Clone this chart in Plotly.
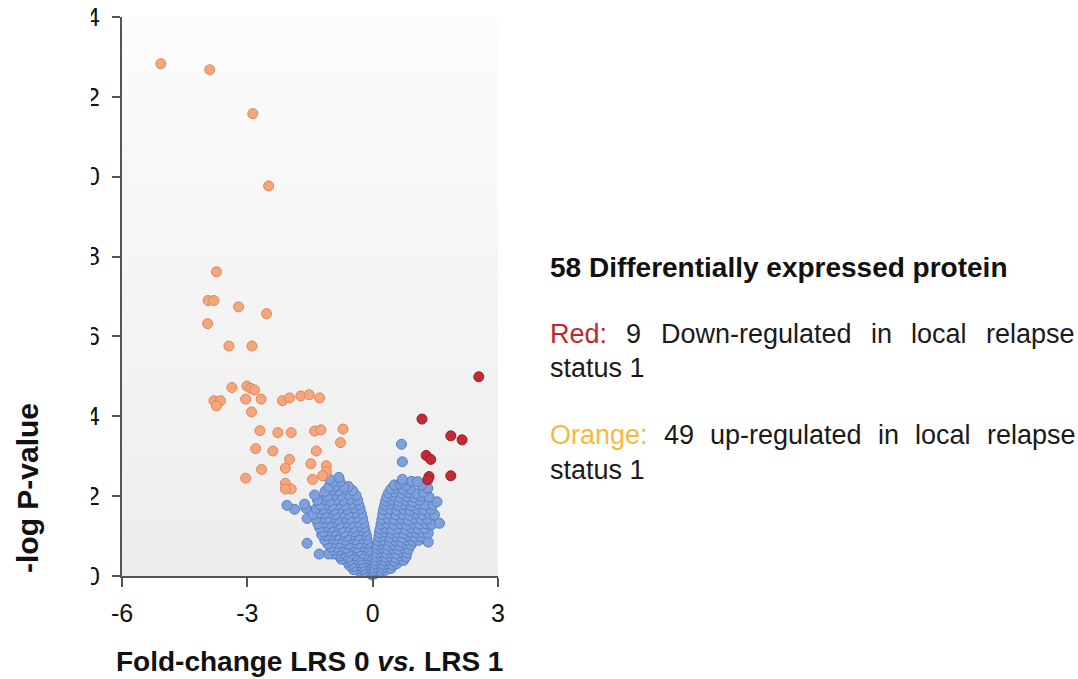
import plotly.graph_objects as go

# ---------------------------------------------------------------------------
# Data: fold-change (LRS 0 vs. LRS 1) and -log P-value per protein
# ---------------------------------------------------------------------------

# Proteins without significant change
blue_points = [
    (-0.02, 0.03), (-0.06, 0.06),
    (-0.04, 0.10), (-0.12, 0.12), (-0.22, 0.09), (-0.32, 0.12),
    (-0.05, 0.18), (-0.14, 0.20), (-0.25, 0.17), (-0.36, 0.19), (-0.46, 0.16),
    (-0.06, 0.26), (-0.15, 0.28), (-0.26, 0.25), (-0.37, 0.27), (-0.47, 0.24), (-0.56, 0.27),
    (-0.07, 0.34), (-0.17, 0.36), (-0.28, 0.33), (-0.39, 0.35), (-0.50, 0.32), (-0.61, 0.36),
    (-0.08, 0.42), (-0.18, 0.44), (-0.30, 0.41), (-0.42, 0.43), (-0.54, 0.40), (-0.66, 0.44), (-0.75, 0.42),
    (-0.09, 0.50), (-0.20, 0.52), (-0.32, 0.49), (-0.44, 0.51), (-0.57, 0.48), (-0.69, 0.52), (-0.80, 0.50),
    (-0.25, 0.57), (-0.50, 0.56), (-0.74, 0.57), (-0.86, 0.55), (-0.95, 0.55), (-1.06, 0.55), (-1.28, 0.55),
    (-0.11, 0.64), (-0.22, 0.66), (-0.34, 0.63), (-0.46, 0.65), (-0.58, 0.62), (-0.70, 0.66), (-0.82, 0.64), (-0.93, 0.65),
    (-0.16, 0.72), (-0.28, 0.74), (-0.40, 0.71), (-0.53, 0.73), (-0.64, 0.70), (-0.77, 0.74), (-0.89, 0.72), (-1.00, 0.73),
    (-0.12, 0.82), (-0.23, 0.84), (-0.35, 0.81), (-0.47, 0.83), (-0.59, 0.80), (-0.71, 0.84), (-0.84, 0.82),
    (-0.96, 0.83), (-1.08, 0.81), (-1.57, 0.82),
    (-0.14, 0.92), (-0.29, 0.94), (-0.42, 0.91), (-0.55, 0.93), (-0.66, 0.90), (-0.79, 0.94), (-0.91, 0.92),
    (-1.03, 0.93), (-1.15, 0.91),
    (-0.15, 1.02), (-0.25, 1.04), (-0.37, 1.01), (-0.50, 1.03), (-0.62, 1.00), (-0.74, 1.04), (-0.87, 1.02),
    (-0.99, 1.03), (-1.12, 1.01), (-1.22, 1.04),
    (-0.18, 1.12), (-0.31, 1.14), (-0.44, 1.11), (-0.57, 1.13), (-0.69, 1.10), (-0.82, 1.14), (-0.94, 1.12),
    (-1.06, 1.13), (-1.19, 1.11),
    (-0.20, 1.22), (-0.35, 1.24), (-0.48, 1.21), (-0.61, 1.23), (-0.75, 1.20), (-0.88, 1.24), (-1.01, 1.22),
    (-1.14, 1.23), (-1.27, 1.21),
    (-0.22, 1.32), (-0.38, 1.34), (-0.53, 1.31), (-0.66, 1.33), (-0.80, 1.30), (-0.93, 1.34), (-1.05, 1.32),
    (-1.18, 1.33), (-1.31, 1.31),
    (-0.24, 1.44), (-0.41, 1.46), (-0.56, 1.43), (-0.70, 1.45), (-0.84, 1.42), (-0.97, 1.46), (-1.10, 1.44),
    (-1.23, 1.45), (-1.36, 1.43), (-1.57, 1.44),
    (-0.27, 1.56), (-0.44, 1.58), (-0.60, 1.55), (-0.75, 1.57), (-0.89, 1.54), (-1.02, 1.58), (-1.16, 1.56),
    (-1.30, 1.57), (-1.43, 1.55),
    (-0.30, 1.68), (-0.47, 1.70), (-0.63, 1.67), (-0.79, 1.69), (-0.93, 1.66), (-1.07, 1.70), (-1.21, 1.68),
    (-1.35, 1.69), (-1.60, 1.70), (-1.87, 1.67),
    (-0.33, 1.78), (-0.51, 1.80), (-0.68, 1.77), (-0.84, 1.79), (-0.98, 1.76), (-1.12, 1.80), (-1.26, 1.78),
    (-1.63, 1.80), (-2.05, 1.77),
    (-0.36, 1.90), (-0.55, 1.92), (-0.72, 1.89), (-0.88, 1.91), (-1.03, 1.88), (-1.18, 1.92), (-1.32, 1.90),
    (-0.40, 2.02), (-0.60, 2.04), (-0.77, 2.01), (-0.93, 2.03), (-1.08, 2.00), (-1.39, 2.03),
    (-0.48, 2.14), (-0.66, 2.16), (-0.83, 2.13), (-0.98, 2.15), (-1.14, 2.12),
    (-0.58, 2.24), (-0.69, 2.22), (-0.90, 2.25), (-1.05, 2.23),
    (-0.78, 2.36), (-0.95, 2.37), (-1.03, 2.42),
    (-0.81, 2.47),
    (0.03, 0.05), (0.08, 0.07),
    (0.05, 0.13), (0.12, 0.15), (0.20, 0.12), (0.30, 0.14),
    (0.06, 0.21), (0.14, 0.23), (0.23, 0.20), (0.33, 0.22), (0.44, 0.19),
    (0.07, 0.30), (0.16, 0.32), (0.26, 0.29), (0.37, 0.31), (0.48, 0.28), (0.58, 0.31),
    (0.08, 0.39), (0.18, 0.41), (0.29, 0.38), (0.40, 0.40), (0.52, 0.37), (0.63, 0.41), (0.74, 0.39),
    (0.09, 0.48), (0.20, 0.50), (0.31, 0.47), (0.43, 0.49), (0.55, 0.46), (0.67, 0.50), (0.80, 0.48),
    (0.10, 0.58), (0.21, 0.60), (0.33, 0.57), (0.45, 0.59), (0.57, 0.56), (0.69, 0.60), (0.82, 0.58),
    (0.11, 0.68), (0.23, 0.70), (0.35, 0.67), (0.48, 0.69), (0.61, 0.66), (0.74, 0.70), (0.86, 0.68),
    (0.12, 0.78), (0.24, 0.80), (0.37, 0.77), (0.50, 0.79), (0.64, 0.76), (0.78, 0.80), (0.92, 0.78),
    (0.13, 0.88), (0.26, 0.90), (0.40, 0.87), (0.54, 0.89), (0.68, 0.86), (0.82, 0.90), (0.96, 0.88),
    (1.10, 0.89), (1.33, 0.85),
    (0.15, 0.98), (0.28, 1.00), (0.42, 0.97), (0.57, 0.99), (0.72, 0.96), (0.86, 1.00), (1.01, 0.98),
    (1.15, 0.99),
    (0.16, 1.08), (0.30, 1.10), (0.45, 1.07), (0.60, 1.09), (0.75, 1.06), (0.90, 1.10), (1.05, 1.08),
    (1.20, 1.09), (1.33, 1.07),
    (0.18, 1.18), (0.32, 1.20), (0.47, 1.17), (0.62, 1.19), (0.78, 1.16), (0.93, 1.20), (1.08, 1.18),
    (1.24, 1.19),
    (0.20, 1.30), (0.34, 1.32), (0.50, 1.29), (0.66, 1.31), (0.82, 1.28), (0.97, 1.32), (1.12, 1.30),
    (1.28, 1.31), (1.42, 1.29), (1.60, 1.32),
    (0.22, 1.42), (0.37, 1.44), (0.53, 1.41), (0.69, 1.43), (0.85, 1.40), (1.00, 1.44), (1.16, 1.42),
    (1.31, 1.43),
    (0.24, 1.54), (0.40, 1.56), (0.56, 1.53), (0.72, 1.55), (0.88, 1.52), (1.04, 1.56), (1.20, 1.54),
    (1.36, 1.55), (1.48, 1.53),
    (0.26, 1.66), (0.42, 1.68), (0.58, 1.65), (0.74, 1.67), (0.90, 1.64), (1.06, 1.68), (1.22, 1.66),
    (1.40, 1.67),
    (0.29, 1.78), (0.45, 1.80), (0.61, 1.77), (0.77, 1.79), (0.92, 1.76), (1.10, 1.80), (1.26, 1.78),
    (1.44, 1.79),
    (0.31, 1.88), (0.47, 1.90), (0.63, 1.87), (0.80, 1.89), (0.96, 1.86), (1.13, 1.90), (1.54, 1.86),
    (0.34, 1.98), (0.50, 2.00), (0.66, 1.97), (0.83, 1.99), (1.00, 1.97), (1.18, 2.00), (1.35, 1.98),
    (0.38, 2.08), (0.53, 2.10), (0.70, 2.07), (0.86, 2.09), (1.04, 2.06), (1.22, 2.10),
    (0.44, 2.18), (0.57, 2.20), (0.73, 2.17), (0.90, 2.19), (1.32, 2.20),
    (0.52, 2.28), (0.65, 2.30), (0.80, 2.27), (1.17, 2.28),
    (0.71, 2.36), (0.93, 2.37), (1.08, 2.36),
    (0.71, 2.42),
    (0.71, 2.86),
    (0.69, 3.30),
]
blue_fc = [p[0] for p in blue_points]
blue_logp = [p[1] for p in blue_points]

# Up-regulated in local relapse status 1 (orange)
orange_fc = [
    -5.07, -3.90, -2.87, -2.49, -3.74, -3.94, -3.80, -3.21, -2.54, -3.95,
    -3.44, -2.89, -3.37, -3.01, -2.92, -2.83, -3.80, -3.64, -3.74, -3.04,
    -2.67, -2.90, -2.16, -1.99, -1.72, -1.52, -1.27, -2.70, -2.27, -1.95,
    -1.39, -1.24, -0.71, -0.77, -2.80, -2.39, -1.35, -1.99, -2.09, -1.48,
    -1.11, -1.11, -1.20, -2.66, -3.04, -1.44, -2.09, -1.95, -2.09,
]
orange_logp = [
    12.83, 12.68, 11.58, 9.77, 7.62, 6.90, 6.90, 6.74, 6.57, 6.32,
    5.76, 5.76, 4.72, 4.76, 4.70, 4.66, 4.39, 4.39, 4.26, 4.43,
    4.43, 4.11, 4.39, 4.46, 4.51, 4.54, 4.46, 3.64, 3.59, 3.59,
    3.63, 3.66, 3.68, 3.34, 3.19, 3.13, 3.13, 2.92, 2.70, 2.81,
    2.76, 2.61, 2.51, 2.67, 2.45, 2.42, 2.32, 2.18, 2.18,
]

# Down-regulated in local relapse status 1 (red)
red_fc = [2.54, 1.18, 1.87, 2.14, 1.28, 1.39, 1.35, 1.32, 1.87]
red_logp = [4.99, 3.93, 3.51, 3.41, 3.02, 2.92, 2.49, 2.41, 2.51]

x_ticks = [-6, -3, 0, 3]
y_ticks = [0, 2, 4, 6, 8, 10, 12, 14]

# ---------------------------------------------------------------------------
# Page geometry (pixels)
# ---------------------------------------------------------------------------
W, H = 1078, 679
ML, MR, MT, MB = 122, 580, 17, 103
PW, PH = W - ML - MR, H - MT - MB


def paper_x(px):
    return (px - ML) / PW


def paper_y(py):
    return (H - MB - py) / PH


FONT = "Liberation Sans, Arial, Helvetica, sans-serif"
AXIS_COL = "#555555"

fig = go.Figure()

# plot-area background: soft vertical grey gradient
fig.add_trace(go.Scatter(
    x=[-6, 3, 3, -6, -6], y=[0, 0, 14, 14, 0],
    mode="lines", line=dict(width=0), fill="toself",
    fillgradient=dict(type="vertical",
                      colorscale=[[0, "#ededed"], [1, "#fcfcfc"]]),
    hoverinfo="skip", showlegend=False,
))

marker_common = dict(size=10, opacity=1)
fig.add_trace(go.Scatter(
    x=blue_fc, y=blue_logp, mode="markers", cliponaxis=False,
    marker=dict(color="#7ea1dc", line=dict(color="#5a7ec6", width=1), **marker_common),
    showlegend=False,
))
fig.add_trace(go.Scatter(
    x=orange_fc, y=orange_logp, mode="markers", cliponaxis=False,
    marker=dict(color="#f4a77c", line=dict(color="#df8658", width=1), **marker_common),
    showlegend=False,
))
fig.add_trace(go.Scatter(
    x=red_fc, y=red_logp, mode="markers", cliponaxis=False,
    marker=dict(color="#c12c36", line=dict(color="#9a1c26", width=1), **marker_common),
    showlegend=False,
))

axis_common = dict(
    showgrid=False, zeroline=False, showline=True, automargin=False,
    linecolor=AXIS_COL, linewidth=2,
    ticks="outside", tickcolor=AXIS_COL, tickwidth=2,
    tickfont=dict(family=FONT, size=25, color="#111111"),
    fixedrange=True,
)
fig.update_xaxes(range=[-6, 3], tickvals=x_ticks, ticktext=[str(v) for v in x_ticks],
                 ticklen=9, ticklabelstandoff=5, **axis_common)
fig.update_yaxes(range=[0, 14], tickvals=y_ticks, ticktext=[str(v) for v in y_ticks],
                 ticklen=8, ticklabelstandoff=7, **axis_common)

# left strip of the frame hides the leading part of the y tick labels
fig.add_shape(type="rect", xref="paper", yref="paper", layer="above",
              x0=paper_x(-5), x1=paper_x(91), y0=paper_y(H + 5), y1=paper_y(-5),
              fillcolor="white", line=dict(width=0))

annotations = []
# axis titles
annotations.append(dict(
    text="<b>Fold-change LRS 0 <i>vs.</i> LRS 1</b>",
    x=paper_x(309), y=paper_y(661), xref="paper", yref="paper",
    xanchor="center", yanchor="middle", showarrow=False,
    font=dict(family=FONT, size=28, color="#111111"),
))
annotations.append(dict(
    text="<b>-log P-value</b>", textangle=-90,
    x=paper_x(27), y=paper_y(488), xref="paper", yref="paper",
    xanchor="center", yanchor="middle", showarrow=False,
    font=dict(family=FONT, size=30, color="#111111"),
))

# side description
annotations.append(dict(
    text="<b>58 Differentially expressed protein</b>",
    x=paper_x(548), y=paper_y(267), xref="paper", yref="paper",
    xanchor="left", yanchor="middle", showarrow=False,
    font=dict(family=FONT, size=28, color="#111111"),
))

TXT = "#1a1a1a"
RED_TXT = "#c0282d"
ORANGE_TXT = "#f5b942"
BODY = 27

red_line = [("Red:", 548, RED_TXT), ("9", 624, TXT), ("Down-regulated", 659, TXT),
            ("in", 869, TXT), ("local", 909, TXT), ("relapse", 984, TXT)]
orange_line = [("Orange:", 548, ORANGE_TXT), ("49", 662, TXT), ("up-regulated", 708, TXT),
               ("in", 876, TXT), ("local", 913, TXT), ("relapse", 985, TXT)]

for words, ypx in ((red_line, 334), (orange_line, 435)):
    for word, xpx, col in words:
        annotations.append(dict(
            text=word, x=paper_x(xpx), y=paper_y(ypx), xref="paper", yref="paper",
            xanchor="left", yanchor="middle", showarrow=False,
            font=dict(family=FONT, size=BODY, color=col),
        ))
for ypx in (368, 470):
    annotations.append(dict(
        text="status 1", x=paper_x(548), y=paper_y(ypx), xref="paper", yref="paper",
        xanchor="left", yanchor="middle", showarrow=False,
        font=dict(family=FONT, size=BODY, color=TXT),
    ))

fig.update_layout(
    width=W, height=H,
    margin=dict(l=ML, r=MR, t=MT, b=MB, pad=0, autoexpand=False),
    paper_bgcolor="white", plot_bgcolor="white",
    showlegend=False,
    annotations=annotations,
    font=dict(family=FONT),
)

fig.write_html("out.html", config={"displayModeBar": False})
